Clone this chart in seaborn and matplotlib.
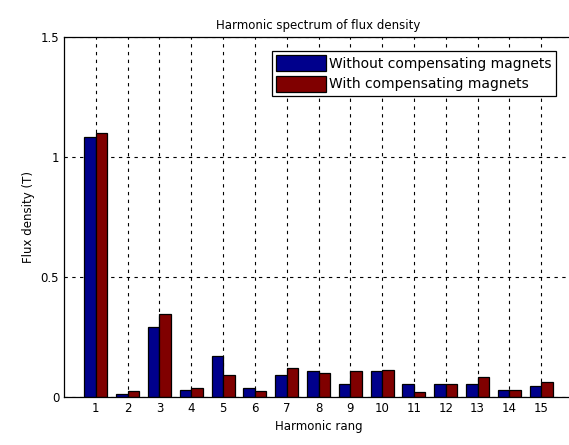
import pandas as pd
import matplotlib.pyplot as plt
import seaborn as sns

# values
harmonics = [str(i) for i in range(1, 16)]
without_comp = [1.082, 0.014, 0.29, 0.03, 0.17, 0.037, 0.09, 0.107, 0.054, 0.107, 0.054, 0.053, 0.054, 0.03, 0.046]
with_comp = [1.101, 0.024, 0.345, 0.037, 0.09, 0.024, 0.122, 0.10, 0.107, 0.114, 0.022, 0.053, 0.083, 0.03, 0.062]
series_names = ["Without compensating magnets", "With compensating magnets"]
colors = ["#00008c", "#800000"]

df = pd.DataFrame({
    "harmonic": harmonics * 2,
    "flux": without_comp + with_comp,
    "series": [series_names[0]] * len(harmonics) + [series_names[1]] * len(harmonics),
})

sns.set_style("white")
plt.rcParams["font.family"] = ["DejaVu Sans"]
plt.rcParams["text.color"] = "black"
plt.rcParams["axes.labelcolor"] = "black"

fig = plt.figure(figsize=(5.69, 4.45), dpi=100)
ax = fig.add_axes([64 / 569, 48 / 445, (573 - 64) / 569, 360 / 445])

sns.barplot(data=df, x="harmonic", y="flux", hue="series", order=harmonics,
            hue_order=series_names, palette=colors, width=0.72,
            edgecolor="black", linewidth=0.9, saturation=1, ax=ax)

ax.set_axisbelow(True)
ax.grid(True, color="black", linestyle=(0, (3, 4)), linewidth=0.8)
ax.set_xlim(-1, 15)
ax.set_ylim(0, 1.5)
ax.set_yticks([0, 0.5, 1, 1.5])
ax.set_yticklabels(["0", "0.5", "1", "1.5"])
ax.tick_params(direction="in", length=4, labelsize=8.5, colors="black")
for s in ax.spines.values():
    s.set_color("black")
    s.set_linewidth(0.9)

ax.set_title("Harmonic spectrum of flux density", fontsize=8.5, color="black")
ax.set_xlabel("Harmonic rang", fontsize=8.5, color="black")
ax.set_ylabel("Flux density (T)", fontsize=8.5, color="black")

leg = ax.legend(loc="upper right", bbox_to_anchor=(0.98, 0.98), fontsize=10,
                frameon=True, fancybox=False, edgecolor="black", framealpha=1,
                handlelength=3.6, handleheight=1.4, handletextpad=0.2,
                borderpad=0.3, labelspacing=0.3)
leg.get_frame().set_linewidth(0.9)

fig.savefig("out.png", dpi=100)
